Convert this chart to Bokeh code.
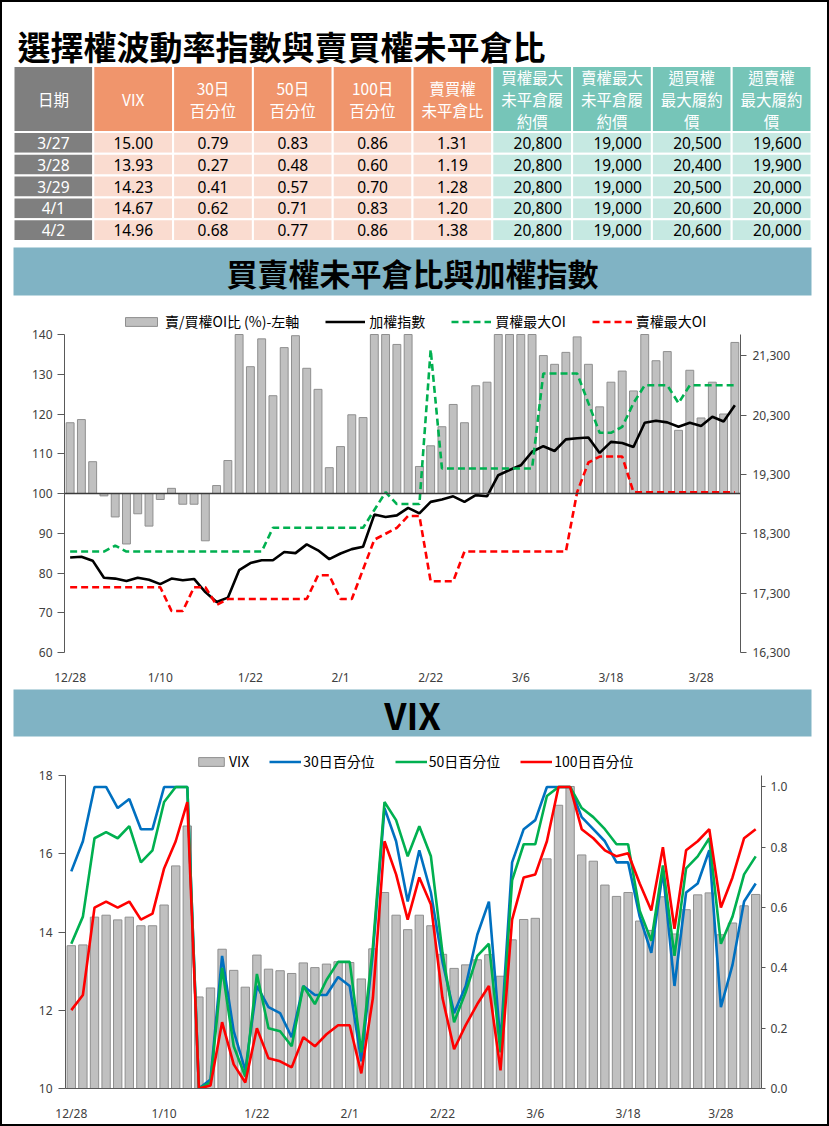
from bokeh.plotting import figure
from bokeh.models import (Range1d, LinearAxis, FixedTicker, NumeralTickFormatter,
                          Legend, LegendItem, Span, ColumnDataSource)
from bokeh.layouts import column
from bokeh.embed import file_html
from bokeh.resources import INLINE
from bokeh.core.properties import value

# ---------------- data ----------------
dates = ["12/28", "12/29", "1/2", "1/3", "1/4", "1/5", "1/8", "1/9", "1/10", "1/11",
         "1/12", "1/15", "1/16", "1/17", "1/18", "1/19", "1/22", "1/23", "1/24", "1/25",
         "1/26", "1/29", "1/30", "1/31", "2/1", "2/2", "2/5", "2/15", "2/16", "2/19",
         "2/20", "2/21", "2/22", "2/23", "2/26", "2/27", "2/29", "3/1", "3/4", "3/5",
         "3/6", "3/7", "3/8", "3/11", "3/12", "3/13", "3/14", "3/15", "3/18", "3/19",
         "3/20", "3/21", "3/22", "3/25", "3/26", "3/27", "3/28", "3/29", "4/1", "4/2"]
tick_idx = [0, 8, 16, 24, 32, 40, 48, 56]

# put/call OI ratio (%) - left axis
pcr_pct = [117.8, 118.6, 108.0, 99.4, 94.1, 87.3, 94.9, 91.8, 98.5, 101.3,
           97.3, 97.3, 88.1, 102.0, 108.3, 145.0, 131.9, 138.9, 124.6, 136.7,
           139.7, 131.5, 126.2, 106.5, 111.8, 119.8, 119.1, 148.0, 150.0, 137.5,
           146.0, 106.8, 112.0, 116.8, 122.4, 117.8, 127.1, 128.0, 142.0, 145.0,
           144.0, 141.0, 134.7, 132.5, 135.5, 139.4, 132.5, 121.8, 128.0, 130.8,
           125.8, 143.0, 133.4, 135.7, 115.9, 131.0, 119.0, 128.0, 120.0, 138.0]
# TAIEX - right axis
taiex = [17900, 17913, 17847, 17559, 17545, 17505, 17559, 17525, 17452, 17545,
         17518, 17539, 17318, 17150, 17224, 17686, 17806, 17853, 17853, 17994,
         17974, 18121, 18021, 17873, 17967, 18041, 18081, 18623, 18583, 18610,
         18737, 18643, 18837, 18878, 18931, 18837, 18951, 18931, 19286, 19373,
         19453, 19681, 19775, 19694, 19889, 19909, 19922, 19661, 19848, 19828,
         19761, 20170, 20203, 20176, 20103, 20170, 20116, 20270, 20190, 20464]
call_max_oi = [18000, 18000, 18000, 18000, 18100, 18000, 18000, 18000, 18000, 18000,
               18000, 18000, 18000, 18000, 18000, 18000, 18000, 18000, 18400, 18400,
               18400, 18400, 18400, 18400, 18400, 18400, 18400, 18700, 19000, 18800,
               18800, 18800, 21400, 19400, 19400, 19400, 19400, 19400, 19400, 19400,
               19400, 19400, 21000, 21000, 21000, 21000, 20500, 20000, 20000, 20100,
               20500, 20800, 20800, 20800, 20500, 20800, 20800, 20800, 20800, 20800]
put_max_oi = [17400, 17400, 17400, 17400, 17400, 17400, 17400, 17400, 17400, 17000,
              17000, 17400, 17400, 17100, 17200, 17200, 17200, 17200, 17200, 17200,
              17200, 17200, 17600, 17600, 17200, 17200, 17700, 18200, 18300, 18400,
              18600, 18600, 17500, 17500, 17500, 18000, 18000, 18000, 18000, 18000,
              18000, 18000, 18000, 18000, 18000, 19000, 19500, 19600, 19600, 19600,
              19000, 19000, 19000, 19000, 19000, 19000, 19000, 19000, 19000, 19000]

vix = [13.65, 13.67, 14.38, 14.43, 14.31, 14.38, 14.16, 14.16, 14.69, 15.69,
       16.71, 12.34, 12.57, 13.56, 13.02, 12.59, 13.41, 13.05, 13.01, 12.94,
       13.21, 13.09, 13.18, 13.24, 13.22, 12.80, 13.57, 15.01, 14.43, 14.06,
       14.43, 14.16, 13.43, 13.07, 13.16, 13.29, 13.42, 12.87, 13.80, 14.32,
       14.35, 15.87, 17.24, 17.72, 15.97, 15.81, 15.20, 14.91, 15.01, 14.28,
       14.04, 14.90, 13.95, 14.57, 14.95, 15.00, 13.93, 14.23, 14.67, 14.96]
pct30 = [0.72, 0.82, 1.00, 1.00, 0.93, 0.96, 0.86, 0.86, 1.00, 1.00,
         1.00, 0.00, 0.03, 0.44, 0.19, 0.06, 0.34, 0.27, 0.25, 0.17,
         0.34, 0.31, 0.31, 0.37, 0.34, 0.09, 0.45, 0.93, 0.82, 0.62,
         0.79, 0.65, 0.42, 0.25, 0.34, 0.51, 0.62, 0.15, 0.75, 0.86,
         0.89, 1.00, 1.00, 1.00, 0.90, 0.86, 0.82, 0.75, 0.75, 0.57,
         0.45, 0.72, 0.34, 0.65, 0.68, 0.79, 0.27, 0.41, 0.62, 0.68]
pct50 = [0.48, 0.57, 0.83, 0.85, 0.83, 0.87, 0.75, 0.79, 0.95, 1.00,
         1.00, 0.00, 0.02, 0.40, 0.14, 0.04, 0.38, 0.20, 0.19, 0.14,
         0.34, 0.28, 0.36, 0.42, 0.42, 0.12, 0.47, 0.95, 0.89, 0.77,
         0.87, 0.77, 0.45, 0.22, 0.32, 0.44, 0.48, 0.12, 0.69, 0.81,
         0.81, 0.97, 1.00, 1.00, 0.93, 0.90, 0.86, 0.81, 0.81, 0.59,
         0.49, 0.74, 0.44, 0.73, 0.77, 0.83, 0.48, 0.57, 0.71, 0.77]
pct100 = [0.26, 0.31, 0.60, 0.62, 0.60, 0.62, 0.56, 0.58, 0.73, 0.82,
          0.95, 0.00, 0.01, 0.22, 0.08, 0.02, 0.20, 0.10, 0.09, 0.07,
          0.17, 0.14, 0.18, 0.21, 0.21, 0.05, 0.30, 0.82, 0.71, 0.56,
          0.70, 0.61, 0.30, 0.13, 0.21, 0.28, 0.34, 0.06, 0.56, 0.70,
          0.71, 0.82, 1.00, 1.00, 0.86, 0.83, 0.79, 0.77, 0.78, 0.68,
          0.59, 0.80, 0.53, 0.79, 0.82, 0.86, 0.60, 0.70, 0.83, 0.86]

# summary table
tbl_headers = ["日期", "VIX", "30日\n百分位", "50日\n百分位", "100日\n百分位", "賣買權\n未平倉比",
               "買權最大\n未平倉履\n約價", "賣權最大\n未平倉履\n約價", "週買權\n最大履約\n價", "週賣權\n最大履約\n價"]
tbl_dates = ["3/27", "3/28", "3/29", "4/1", "4/2"]
tbl_vix = [15.00, 13.93, 14.23, 14.67, 14.96]
tbl_p30 = [0.79, 0.27, 0.41, 0.62, 0.68]
tbl_p50 = [0.83, 0.48, 0.57, 0.71, 0.77]
tbl_p100 = [0.86, 0.60, 0.70, 0.83, 0.86]
tbl_pcr = [1.31, 1.19, 1.28, 1.20, 1.38]
tbl_call_max = [20800, 20800, 20800, 20800, 20800]
tbl_put_max = [19000, 19000, 19000, 19000, 19000]
tbl_wk_call = [20500, 20400, 20500, 20600, 20600]
tbl_wk_put = [19600, 19900, 20000, 20000, 20000]

# ---------------- styling ----------------
W = 829
B = 2            # page frame thickness
IW = W - 2 * B   # inner width of every figure
CJK = "Noto Sans CJK TC"
NUM = "Noto Sans"
BANNER = "#80b3c4"
SIDE = {"border-left": "2px solid black", "border-right": "2px solid black"}


def blank(y0, y1):
    """figure whose data coordinates are page pixels (x: B..W-B, y: y0..y1, downwards)"""
    f = figure(width=IW, height=int(y1 - y0), x_range=Range1d(B, W - B), y_range=Range1d(y1, y0),
               x_axis_location=None, y_axis_location=None, toolbar_location=None,
               output_backend="svg", min_border=0)
    f.grid.visible = False
    f.outline_line_color = None
    return f


def style_axis(a, tick_out=6, standoff=5):
    a.axis_line_color = "#595959"
    a.axis_line_width = 1
    a.major_tick_line_color = "#595959"
    a.major_tick_out = tick_out
    a.major_tick_in = 0
    a.minor_tick_line_color = None
    a.major_label_text_font = NUM
    a.major_label_text_font_size = "12px"
    a.major_label_text_color = "#404040"
    a.major_label_standoff = standoff


# ---------------- top: title + table + banner ----------------
top = blank(B, 298)
top.text(x=[17], y=[45], text=["選擇權波動率指數與賣買權未平倉比"], text_font=value(CJK),
         text_font_size="33px", text_font_style="bold", text_baseline="middle", text_color="black")

L, CW = 13.0, 79.8
HY0, HY1, RH = 65.5, 131.5, 21.8
ncol = len(tbl_headers)
xc = [L + CW * (k + 0.5) for k in range(ncol)]
hdr_fill = ["#7f7f7f"] + ["#f0956c"] * 5 + ["#76c5b8"] * 4
cell_fill = ["#7f7f7f"] + ["#fadcd0"] * 5 + ["#c6e9e2"] * 4
top.rect(x=xc, y=[(HY0 + HY1) / 2] * ncol, width=CW, height=HY1 - HY0,
         fill_color=hdr_fill, line_color="white", line_width=2)
hx, hy, ht = [], [], []
for k, h in enumerate(tbl_headers):
    parts = h.split("\n")
    n = len(parts)
    for j, s in enumerate(parts):
        hx.append(xc[k])
        hy.append((HY0 + HY1) / 2 + (j - (n - 1) / 2) * 22)
        ht.append(s)
top.text(x=hx, y=hy, text=ht, text_font=value(CJK), text_font_size="15.5px",
         text_color="white", text_align="center", text_baseline="middle")

cols = [tbl_dates,
        [f"{v:.2f}" for v in tbl_vix], [f"{v:.2f}" for v in tbl_p30],
        [f"{v:.2f}" for v in tbl_p50], [f"{v:.2f}" for v in tbl_p100],
        [f"{v:.2f}" for v in tbl_pcr],
        [f"{v:,}" for v in tbl_call_max], [f"{v:,}" for v in tbl_put_max],
        [f"{v:,}" for v in tbl_wk_call], [f"{v:,}" for v in tbl_wk_put]]
cx, cy, cf = [], [], []
tx_c, ty_c, tt_c, tcol_c = [], [], [], []
tx_r, ty_r, tt_r = [], [], []
for r in range(len(tbl_dates)):
    yc = HY1 + RH * (r + 0.5)
    for k in range(ncol):
        cx.append(xc[k]); cy.append(yc); cf.append(cell_fill[k])
        s = cols[k][r]
        if k < 6:
            tx_c.append(xc[k]); ty_c.append(yc); tt_c.append(s)
            tcol_c.append("white" if k == 0 else "black")
        else:
            tx_r.append(L + CW * (k + 1) - 10); ty_r.append(yc); tt_r.append(s)
top.rect(x=cx, y=cy, width=CW, height=RH, fill_color=cf, line_color="white", line_width=2)
top.text(x=tx_c, y=ty_c, text=tt_c, text_color=tcol_c, text_font=value(NUM),
         text_font_size="15.5px", text_align="center", text_baseline="middle")
top.text(x=tx_r, y=ty_r, text=tt_r, text_color="black", text_font=value(NUM),
         text_font_size="15.5px", text_align="right", text_baseline="middle")

top.rect(x=[412], y=[271], width=798, height=48, fill_color=BANNER, line_color=None)
top.text(x=[412], y=[272], text=["買賣權未平倉比與加權指數"], text_font=value(CJK),
         text_font_size="31px", text_font_style="bold", text_align="center",
         text_baseline="middle", text_color="black")

# ---------------- chart 1 ----------------
# frame spans page y 302..652; the axes themselves are bounded to 60..140 (334..652)
Y1_LO, Y1_HI = 60, 140
R1_LO, R1_HI = 16300, 21656
F1_TOP = 4
F1_H, F1_AX = 390 - F1_TOP - 36, 318    # frame height, axis height (px)
xs = list(range(len(dates)))
p1 = figure(width=IW, height=390, x_range=Range1d(-0.5, len(dates) - 0.5),
            y_range=Range1d(Y1_LO, Y1_LO + (Y1_HI - Y1_LO) * F1_H / F1_AX),
            toolbar_location=None, output_backend="svg",
            min_border_left=64 - B, min_border_right=W - B - 740, min_border_top=F1_TOP,
            min_border_bottom=36)
p1.extra_y_ranges = {"idx": Range1d(R1_LO, R1_LO + (R1_HI - R1_LO) * F1_H / F1_AX)}
p1.grid.visible = False
p1.outline_line_color = None
src1 = ColumnDataSource(dict(x=xs, r=[min(v, Y1_HI) for v in pcr_pct], t=taiex,
                             c=call_max_oi, p=put_max_oi))
rb = p1.vbar(x="x", bottom=100, top="r", width=0.7, source=src1,
             fill_color="#c0c0c0", line_color="#8f8f8f", line_width=1)
p1.add_layout(Span(location=100, dimension="width", line_color="#3a3a3a", line_width=1.5))
rt = p1.line("x", "t", source=src1, y_range_name="idx", line_color="black", line_width=2.6)
rc = p1.line("x", "c", source=src1, y_range_name="idx", line_color="#00b050", line_width=2.6,
             line_dash="7 4")
rp = p1.line("x", "p", source=src1, y_range_name="idx", line_color="#ff0000", line_width=2.6,
             line_dash="7 4")

ya = p1.yaxis[0]
ya.ticker = FixedTicker(ticks=[60, 70, 80, 90, 100, 110, 120, 130, 140])
ya.bounds = (Y1_LO, Y1_HI)
style_axis(ya, tick_out=7, standoff=5)
ra = LinearAxis(y_range_name="idx", ticker=FixedTicker(ticks=[16300, 17300, 18300, 19300, 20300, 21300]),
                formatter=NumeralTickFormatter(format="0,0"), bounds=(R1_LO, R1_HI))
style_axis(ra, tick_out=6, standoff=6)
p1.add_layout(ra, "right")
xa = p1.xaxis[0]
xa.ticker = FixedTicker(ticks=tick_idx)
xa.major_label_overrides = {i: dates[i] for i in tick_idx}
style_axis(xa)
xa.axis_line_color = None
xa.major_tick_line_color = None
xa.major_label_standoff = 10

leg1 = Legend(items=[LegendItem(label="賣/買權OI比 (%)-左軸", renderers=[rb]),
                     LegendItem(label="加權指數", renderers=[rt]),
                     LegendItem(label="買權最大OI", renderers=[rc]),
                     LegendItem(label="賣權最大OI", renderers=[rp])],
              orientation="horizontal", location=(57, 321), glyph_width=40, glyph_height=11,
              label_standoff=4, spacing=26, padding=0, margin=0, border_line_color=None,
              background_fill_alpha=0, label_text_font=CJK, label_text_font_size="14px",
              label_text_color="black", label_height=20)
p1.add_layout(leg1, "center")

# ---------------- banner 2 ----------------
mid = blank(688, 740)
mid.rect(x=[412], y=[712.5], width=798, height=47, fill_color=BANNER, line_color=None)
mid.text(x=[412], y=[713], text=["VIX"], text_font=value(CJK), text_font_size="36px",
         text_font_style="bold", text_align="center", text_baseline="middle", text_color="black")

# ---------------- chart 2 ----------------
# frame spans page y 742..1093; axes bounded to 10..18 (776..1093)
Y2_LO, Y2_HI = 10, 18
R2_LO, R2_HI = 0, 1.038
P2_H = 1126 - B - 740
F2_TOP, F2_BOT = 2, 1126 - B - 1093
F2_H, F2_AX = P2_H - F2_TOP - F2_BOT, 317.5
p2 = figure(width=IW, height=P2_H, x_range=Range1d(-0.5, len(dates) - 0.5),
            y_range=Range1d(Y2_LO, Y2_LO + (Y2_HI - Y2_LO) * F2_H / F2_AX),
            toolbar_location=None, output_backend="svg",
            min_border_left=65 - B, min_border_right=W - B - 761, min_border_top=F2_TOP,
            min_border_bottom=F2_BOT)
p2.extra_y_ranges = {"pct": Range1d(R2_LO, R2_LO + (R2_HI - R2_LO) * F2_H / F2_AX)}
p2.grid.visible = False
p2.outline_line_color = None
src2 = ColumnDataSource(dict(x=xs, v=vix, a=pct30, b=pct50, c=pct100))
vb = p2.vbar(x="x", bottom=Y2_LO, top="v", width=0.72, source=src2,
             fill_color="#c0c0c0", line_color="#8f8f8f", line_width=1)
l30 = p2.line("x", "a", source=src2, y_range_name="pct", line_color="#0070c0", line_width=2.6)
l50 = p2.line("x", "b", source=src2, y_range_name="pct", line_color="#00b050", line_width=2.6)
l100 = p2.line("x", "c", source=src2, y_range_name="pct", line_color="#ff0000", line_width=2.6)

ya2 = p2.yaxis[0]
ya2.ticker = FixedTicker(ticks=[10, 12, 14, 16, 18])
ya2.bounds = (Y2_LO, Y2_HI)
style_axis(ya2, tick_out=7, standoff=6)
ra2 = LinearAxis(y_range_name="pct", ticker=FixedTicker(ticks=[0, 0.2, 0.4, 0.6, 0.8, 1.0]),
                 formatter=NumeralTickFormatter(format="0.0"), bounds=(R2_LO, R2_HI))
style_axis(ra2, tick_out=4, standoff=5)
p2.add_layout(ra2, "right")
xa2 = p2.xaxis[0]
xa2.ticker = FixedTicker(ticks=tick_idx)
xa2.major_label_overrides = {i: dates[i] for i in tick_idx}
style_axis(xa2)
xa2.major_tick_line_color = None
xa2.major_label_standoff = 10

leg2 = Legend(items=[LegendItem(label="VIX", renderers=[vb]),
                     LegendItem(label="30日百分位", renderers=[l30]),
                     LegendItem(label="50日百分位", renderers=[l50]),
                     LegendItem(label="100日百分位", renderers=[l100])],
              orientation="horizontal", location=(130, 317), glyph_width=32, glyph_height=11,
              label_standoff=2, spacing=20, padding=0, margin=0, border_line_color=None,
              background_fill_alpha=0, label_text_font=CJK, label_text_font_size="14px",
              label_text_color="black", label_height=20)
p2.add_layout(leg2, "center")

roots = [column(top, styles={**SIDE, "border-top": "2px solid black"}),
         column(p1, styles=SIDE),
         column(mid, styles=SIDE),
         column(p2, styles={**SIDE, "border-bottom": "2px solid black"})]
open("out.html", "w").write(file_html(roots, INLINE, title="選擇權波動率指數與賣買權未平倉比"))
